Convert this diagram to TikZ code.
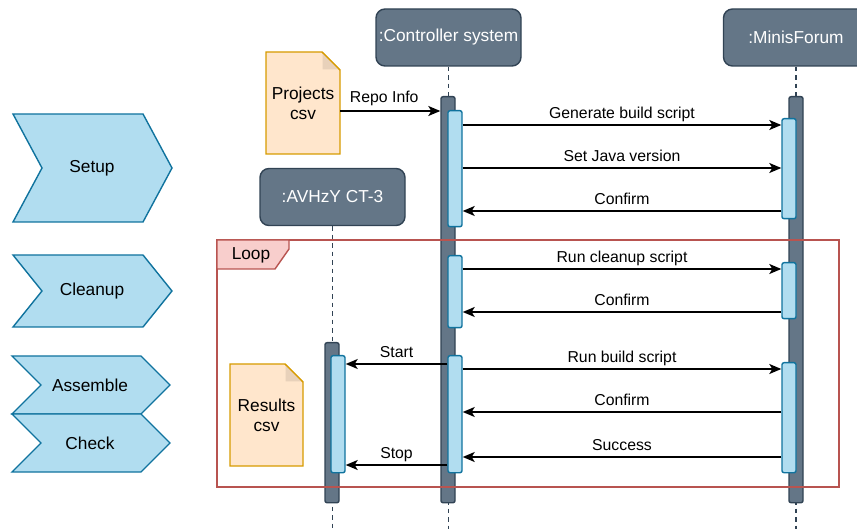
\documentclass[tikz,border=0pt]{standalone}
\usepackage{fontspec}
\setmainfont{Liberation Sans}
\usetikzlibrary{arrows.meta}
\definecolor{hdrF}{HTML}{647687}
\definecolor{hdrS}{HTML}{314354}
\definecolor{barF}{HTML}{B1DDF0}
\definecolor{barS}{HTML}{10739E}
\definecolor{docF}{HTML}{FFE6CC}
\definecolor{docS}{HTML}{D79B00}
\definecolor{loopS}{HTML}{B85450}
\definecolor{loopF}{HTML}{F8CECC}
\begin{document}
\begin{tikzpicture}[x=1pt,y=-1pt,
  hdr/.style={draw=hdrS, fill=hdrF, rounded corners=9pt, line width=1.4pt, minimum width=145pt, minimum height=57pt, text=white, font=\fontsize{17.3}{20}\selectfont, inner sep=0pt},
  obar/.style={draw=hdrS, fill=hdrF, rounded corners=2pt, line width=1.4pt, minimum width=14pt, inner sep=0pt, anchor=north},
  ibar/.style={draw=barS, fill=barF, rounded corners=2pt, line width=1.4pt, minimum width=14pt, inner sep=0pt, anchor=north},
  life/.style={draw=hdrS, line width=1.4pt, dash pattern=on 4.5pt off 4pt},
  msg/.style={draw=black, line width=1.4pt, -{Stealth[length=12pt,width=10pt,inset=3pt]}},
  lbl/.style={font=\fontsize{15.8}{18}\selectfont, inner sep=0pt, anchor=base, yshift=6.5pt},
  big/.style={font=\fontsize{17.3}{21}\selectfont, inner sep=0pt, align=center},
  chev/.style={draw=barS, fill=barF, line width=1.4pt, line join=miter},
  docshape/.style={draw=docS, fill=docF, line width=1.4pt},
  fold/.style={fill=docF!91!black}
]
\useasboundingbox (0,0) rectangle (857,529);
\clip (0,0) rectangle (857,529);

% headers
\node[hdr] (ctrl) at (448.5,37.5) {:Controller system};
\node[hdr] (mini) at (796,37.5) {:MinisForum};
\node[hdr] (avh) at (332.5,197) {:AVHzY CT-3};

% lifelines
\draw[life] (ctrl.south) -- (ctrl.south |- 0,529);
\draw[life] (mini.south) -- (mini.south |- 0,529);
\draw[life] (avh.south) -- (avh.south |- 0,529);

% activation bars
\node[obar, minimum height=406pt] (cb) at (448,96) {};
\node[ibar, minimum height=116pt] (c1) at (455,110) {};
\node[ibar, minimum height=72pt] (c2) at (455,255) {};
\node[ibar, minimum height=117pt] (c3) at (455,355) {};
\node[obar, minimum height=406pt] (mb) at (796,96) {};
\node[ibar, minimum height=100pt] (m1) at (789,118) {};
\node[ibar, minimum height=56pt] (m2) at (789,262) {};
\node[ibar, minimum height=110pt] (m3) at (789,362) {};
\node[obar, minimum height=160pt] (ab) at (332,342) {};
\node[ibar, minimum height=117pt] (a1) at (338,355) {};

% documents
\draw[docshape] (266,52) -- (322,52) -- (340,70) -- (340,154) -- (266,154) -- cycle;
\fill[fold] (322.7,52.7) -- (322.7,69.3) -- (339.3,69.3) -- cycle;
\draw[docS, line width=1.4pt] (322,52) -- (340,70);
\node[big, minimum width=74pt, minimum height=102pt] (proj) at (303,103) {Projects\\[-1pt]csv};
\draw[docshape] (230,364) -- (285,364) -- (303,382) -- (303,466) -- (230,466) -- cycle;
\fill[fold] (285.7,364.7) -- (285.7,381.3) -- (302.3,381.3) -- cycle;
\draw[docS, line width=1.4pt] (285,364) -- (303,382);
\node[big, minimum width=73pt, minimum height=102pt] (res) at (266.5,415) {Results\\[-1pt]csv};

% chevrons
\draw[chev] (13,114) -- (143,114) -- (172,168) -- (143,222) -- (13,222) -- (42,168) -- cycle;
\node[big] (setup) at (92,168) {Setup};
\draw[chev] (13,255) -- (143,255) -- (172,291) -- (143,327) -- (13,327) -- (42,291) -- cycle;
\node[big] (cleanup) at (92,291) {Cleanup};
\draw[chev] (12,356) -- (141,356) -- (170,385) -- (141,414) -- (12,414) -- (41,385) -- cycle;
\node[big] (assemble) at (90,385) {Assemble};
\draw[chev] (12,414) -- (141,414) -- (170,443) -- (141,472) -- (12,472) -- (41,443) -- cycle;
\node[big] (check) at (90,443) {Check};

% messages
\draw[msg] (proj.east |- 0,111) -- node[lbl, xshift=-6pt, yshift=1.5pt] {Repo Info} (cb.west |- 0,111);
\draw[msg] (c1.east |- 0,125) -- node[lbl] {Generate build script} (m1.west |- 0,125);
\draw[msg] (c1.east |- 0,168) -- node[lbl] {Set Java version} (m1.west |- 0,168);
\draw[msg] (m1.west |- 0,211) -- node[lbl] {Confirm} (c1.east |- 0,211);
\draw[msg] (c2.east |- 0,269) -- node[lbl] {Run cleanup script} (m2.west |- 0,269);
\draw[msg] (m2.west |- 0,312) -- node[lbl] {Confirm} (c2.east |- 0,312);
\draw[msg] (c3.east |- 0,369) -- node[lbl] {Run build script} (m3.west |- 0,369);
\draw[msg] (m3.west |- 0,412) -- node[lbl] {Confirm} (c3.east |- 0,412);
\draw[msg] (m3.west |- 0,457) -- node[lbl] {Success} (c3.east |- 0,457);
\draw[msg] (c3.west |- 0,364) -- node[lbl] {Start} (a1.east |- 0,364);
\draw[msg] (c3.west |- 0,465) -- node[lbl] {Stop} (a1.east |- 0,465);

% loop frame
\draw[draw=loopS, line width=1.4pt] (217,240) rectangle (839,487);
\draw[draw=loopS, fill=loopF, line width=1.4pt] (217,240) -- (289,240) -- (289,249) -- (275,269) -- (217,269) -- cycle;
\node[big] (loop) at (251,255) {Loop};
\end{tikzpicture}
\end{document}
